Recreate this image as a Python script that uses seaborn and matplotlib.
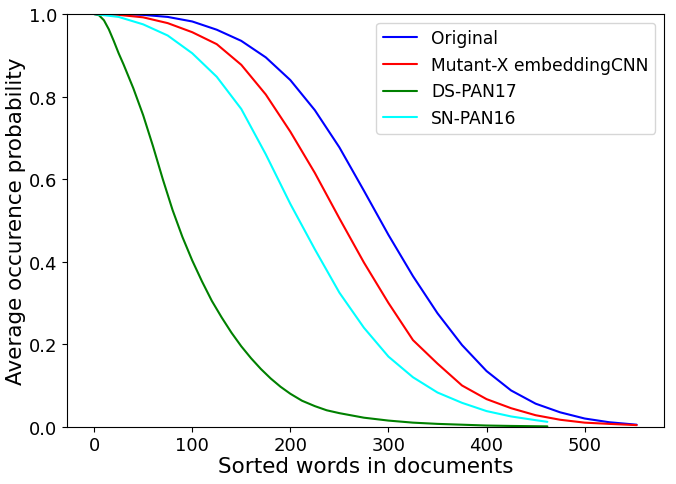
import numpy as np
import pandas as pd
import matplotlib
matplotlib.use("Agg")
import matplotlib.pyplot as plt
import seaborn as sns

# values
original_x = [0, 25, 50, 75, 100, 125, 150, 175, 200, 225, 250, 275, 300,
              325, 350, 375, 400, 425, 450, 475, 500, 525, 553]
original_y = [1.0, 1.0, 0.998, 0.993, 0.982, 0.962, 0.935, 0.895, 0.840,
              0.767, 0.677, 0.572, 0.465, 0.365, 0.275, 0.198, 0.135, 0.088,
              0.056, 0.035, 0.020, 0.011, 0.005]

mutant_x = [0, 25, 50, 75, 100, 125, 150, 175, 200, 225, 250, 275, 300,
            325, 350, 375, 400, 425, 450, 475, 500, 525, 553]
mutant_y = [1.0, 0.998, 0.992, 0.978, 0.956, 0.927, 0.877, 0.805, 0.715,
            0.615, 0.505, 0.398, 0.300, 0.210, 0.153, 0.100, 0.067, 0.045,
            0.028, 0.017, 0.010, 0.007, 0.004]

ds_x = [0, 5, 10, 15, 20, 25, 30, 40, 50, 60, 70, 80, 90, 100, 110, 120,
        130, 140, 150, 160, 170, 180, 190, 200, 212, 225, 237, 250, 275, 300,
        325, 350, 375, 400, 425, 462]
ds_y = [1.0, 0.997, 0.985, 0.963, 0.935, 0.905, 0.878, 0.82, 0.755, 0.68,
        0.60, 0.525, 0.46, 0.403, 0.352, 0.305, 0.265, 0.228, 0.195, 0.166,
        0.14, 0.117, 0.097, 0.08, 0.063, 0.05, 0.04, 0.033, 0.022, 0.015,
        0.010, 0.007, 0.005, 0.003, 0.002, 0.001]

sn_x = [0, 25, 50, 75, 100, 125, 150, 175, 200, 225, 250, 275, 300, 325,
        350, 375, 400, 425, 450, 462]
sn_y = [1.0, 0.993, 0.975, 0.948, 0.905, 0.848, 0.77, 0.66, 0.54, 0.43,
        0.325, 0.24, 0.17, 0.12, 0.083, 0.058, 0.038, 0.025, 0.016, 0.012]

series_names = ["Original", "Mutant-X embeddingCNN", "DS-PAN17", "SN-PAN16"]
series_colors = ["blue", "red", "green", "cyan"]

frames = []
for name, xs, ys in zip(series_names,
                        [original_x, mutant_x, ds_x, sn_x],
                        [original_y, mutant_y, ds_y, sn_y]):
    frames.append(pd.DataFrame({"x": xs, "y": ys, "series": name}))
df = pd.concat(frames, ignore_index=True)

sns.set_style("ticks")
plt.rcParams["font.family"] = ["DejaVu Sans"]
plt.rcParams["text.color"] = "black"
plt.rcParams["axes.labelcolor"] = "black"

fig, ax = plt.subplots(figsize=(6.76, 4.85), dpi=100)

sns.lineplot(data=df, x="x", y="y", hue="series", hue_order=series_names,
             palette=dict(zip(series_names, series_colors)),
             estimator=None, linewidth=1.5, ax=ax)

ax.set_ylim(0, 1.0)
ax.set_xlim(-27.7, 580.7)
ax.set_xticks([0, 100, 200, 300, 400, 500])
ax.set_yticks([0.0, 0.2, 0.4, 0.6, 0.8, 1.0])
ax.tick_params(labelsize=13, colors="black")
ax.set_xlabel("Sorted words in documents", fontsize=15.5, labelpad=1)
ax.set_ylabel("Average occurence probability", fontsize=15.5, labelpad=2)
for s in ax.spines.values():
    s.set_color("black")

leg = ax.legend(loc="upper right", fontsize=12.3, frameon=True, title=None)
for t in leg.get_texts():
    t.set_color("black")

fig.subplots_adjust(left=0.099, right=0.982, top=0.969, bottom=0.118)
fig.savefig("out.png", dpi=100)
